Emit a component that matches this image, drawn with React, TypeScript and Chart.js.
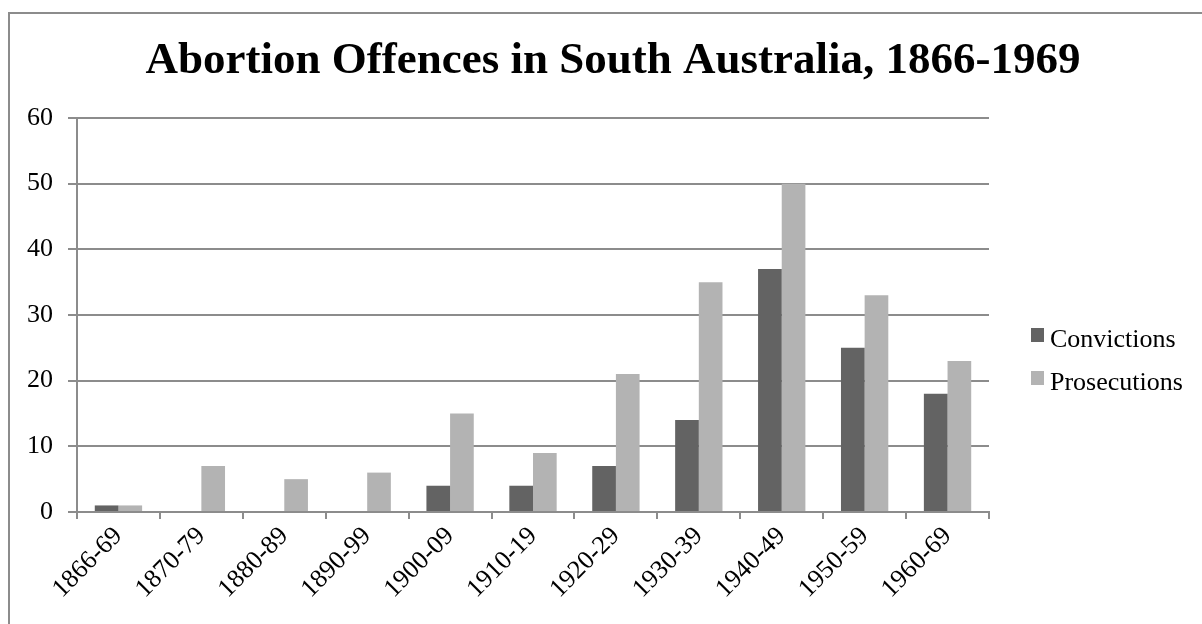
import React, { useEffect, useRef } from "react";
import { Chart, registerables } from "chart.js";

Chart.register(...registerables);

const categories = [
  "1866-69",
  "1870-79",
  "1880-89",
  "1890-99",
  "1900-09",
  "1910-19",
  "1920-29",
  "1930-39",
  "1940-49",
  "1950-59",
  "1960-69",
];
const convictions = [1, 0, 0, 0, 4, 4, 7, 14, 37, 25, 18];
const prosecutions = [1, 7, 5, 6, 15, 9, 21, 35, 50, 33, 23];
const seriesNames = ["Convictions", "Prosecutions"];
const seriesColors = ["#636363", "#b3b3b3"];
const yMin = 0;
const yMax = 60;
const yStep = 10;
const titleText = "Abortion Offences in South Australia, 1866-1969";

const FONT = "'Liberation Serif', 'Times New Roman', serif";
const GRID = "#8c8c8c";

const sideLegend = {
  id: "sideLegend",
  afterDraw(chart: any) {
    const { ctx, chartArea } = chart;
    ctx.save();
    ctx.font = `26px ${FONT}`;
    ctx.textBaseline = "alphabetic";
    ctx.textAlign = "left";
    chart.data.datasets.forEach((ds: any, i: number) => {
      const baseY = chartArea.top + 229 + i * 43;
      const x = chartArea.right + 42;
      ctx.fillStyle = ds.backgroundColor;
      ctx.fillRect(x, baseY - 19, 13, 14);
      ctx.fillStyle = "#000";
      ctx.fillText(ds.label, x + 19, baseY);
    });
    ctx.restore();
  },
};

export default function App() {
  const ref = useRef<HTMLCanvasElement | null>(null);

  useEffect(() => {
    if (!ref.current) return;
    const chart = new Chart(ref.current, {
      type: "bar",
      data: {
        labels: categories,
        datasets: [
          {
            label: seriesNames[0],
            data: convictions,
            backgroundColor: seriesColors[0],
            categoryPercentage: 0.571,
            barPercentage: 1.0,
          },
          {
            label: seriesNames[1],
            data: prosecutions,
            backgroundColor: seriesColors[1],
            categoryPercentage: 0.571,
            barPercentage: 1.0,
          },
        ],
      },
      options: {
        responsive: false,
        animation: false,
        devicePixelRatio: 1,
        layout: { padding: { left: 24, right: 0, top: 0, bottom: 0 } },
        plugins: {
          legend: { display: false },
          tooltip: { enabled: false },
          title: {
            display: true,
            text: titleText,
            color: "#000",
            font: { family: FONT, size: 45, weight: "bold" },
            padding: { top: 34, bottom: 30 },
          },
        },
        scales: {
          x: {
            grid: {
              offset: true,
              drawOnChartArea: false,
              drawTicks: true,
              tickLength: 7,
              color: GRID,
              lineWidth: 2,
            },
            border: { display: true, color: GRID, width: 2 },
            ticks: {
              minRotation: 45,
              maxRotation: 45,
              color: "#000",
              font: { family: FONT, size: 26 },
              padding: 2,
            },
            afterFit: (s: any) => {
              s.height = 112;
            },
          },
          y: {
            min: yMin,
            max: yMax,
            ticks: {
              stepSize: yStep,
              color: "#000",
              font: { family: FONT, size: 26 },
              padding: 15,
            },
            grid: {
              color: GRID,
              lineWidth: 2,
              drawTicks: true,
              tickLength: 9,
            },
            border: { display: true, color: GRID, width: 2 },
            afterFit: (s: any) => {
              s.width = 53;
            },
          },
          legendSpace: {
            type: "linear",
            position: "right",
            display: true,
            grid: { display: false, drawTicks: false },
            border: { display: false },
            ticks: { display: false },
            afterFit: (s: any) => {
              s.width = 213;
            },
          },
        },
      },
      plugins: [sideLegend],
    });
    return () => chart.destroy();
  }, []);

  return (
    <div
      style={{
        position: "fixed",
        left: 0,
        top: 0,
        width: 1202,
        height: 624,
        overflow: "hidden",
        background: "#fff",
      }}
    >
      <div
        style={{
          position: "absolute",
          left: 8,
          top: 12,
          width: 1400,
          height: 800,
          border: "2px solid #8c8c8c",
          boxSizing: "border-box",
        }}
      />
      <canvas
        ref={ref}
        width={1202}
        height={624}
        style={{ position: "absolute", left: 0, top: 0, width: 1202, height: 624 }}
      />
    </div>
  );
}
